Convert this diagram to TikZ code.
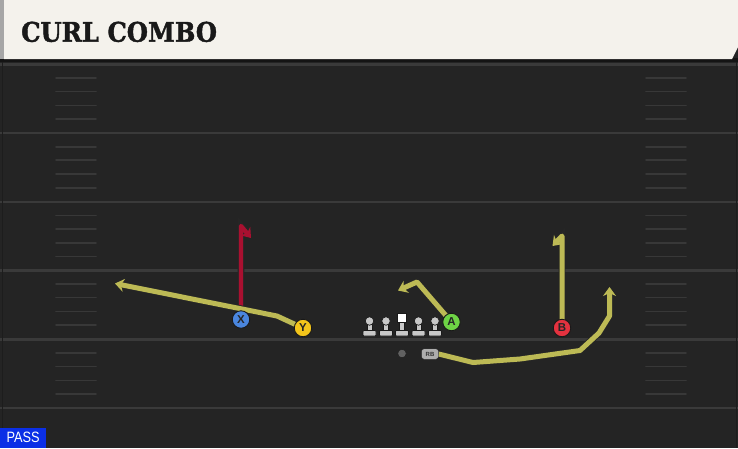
\documentclass[tikz,border=0pt]{standalone}
\usepackage{fontspec}
\setmainfont{Liberation Sans}
\newfontfamily\titlefont{DejaVu Serif}[BoldFeatures={FakeBold=1.6}]
\usetikzlibrary{positioning,arrows.meta,calc}

\definecolor{fieldbg}{HTML}{242424}
\definecolor{yardline}{HTML}{3A3A3A}
\definecolor{hashline}{HTML}{383838}
\definecolor{headerbg}{HTML}{F4F2EC}
\definecolor{routeyel}{HTML}{BDBA55}
\definecolor{routered}{HTML}{A91030}
\definecolor{plX}{HTML}{4A86DE}
\definecolor{plY}{HTML}{F3C51B}
\definecolor{plA}{HTML}{6ED345}
\definecolor{plB}{HTML}{E4323F}
\definecolor{passblue}{HTML}{0B2FE6}
\definecolor{linegray}{HTML}{C8C8C8}

\pgfdeclarelayer{field}
\pgfdeclarelayer{routes}
\pgfsetlayers{field,routes,main}

\tikzstyle{player} = [circle, draw=black!90, line width=0.9pt, minimum size=17.5pt, inner sep=0pt, font=\bfseries\fontsize{11.5}{11.5}\selectfont, text=black!85]
\tikzstyle{route} = [line width=5pt, draw=routeyel, line join=round, -{Stealth[length=9pt,width=13pt]}, preaction={draw=black!85, line width=6.8pt, -{Stealth[length=10.5pt,width=15.5pt]}}]
\tikzstyle{redroute} = [route, draw=routered, line width=4.4pt]
\tikzstyle{lineman} = [draw=black!90, line width=0.7pt, fill=linegray]

\begin{document}
\begin{tikzpicture}[x=1pt, y=-1pt]
\useasboundingbox (0,0) rectangle (738,448);

\begin{pgfonlayer}{field}
\fill[fieldbg] (0,0) rectangle (738,448);
\foreach \k in {0,...,5}
  \draw[yardline, line width=2.4pt] (0,64.5+68.7*\k) -- (738,64.5+68.7*\k);
\foreach \k in {0,...,4}
  \foreach \d in {13.5,27,41,54.5} {
    \draw[hashline, line width=1.6pt, line cap=round] (56,64.5+68.7*\k+\d) -- (96,64.5+68.7*\k+\d);
    \draw[hashline, line width=1.6pt, line cap=round] (646,64.5+68.7*\k+\d) -- (686,64.5+68.7*\k+\d);
  }
\draw[black!20!fieldbg, line width=1pt] (2,59) -- (2,448);
\draw[black!20!fieldbg, line width=1pt] (736,59) -- (736,448);
\fill[black!92] (0,58) rectangle (738,62);
\fill[headerbg] (4,0) -- (738,0) -- (738,47) -- (732,59) -- (4,59) -- cycle;
\fill[black!35] (0,0) rectangle (4,59);
\end{pgfonlayer}

\node[anchor=base west, inner sep=0pt, text=black!90, font=\titlefont\bfseries\fontsize{27}{27}\selectfont] (title) at (21,41.7) {\scalebox{0.9}[1]{CURL COMBO}};
\node[fill=passblue, anchor=south west, minimum width=46pt, minimum height=20pt, inner sep=0pt, text=white, font=\fontsize{15}{15}\selectfont] (play) at (0,448) {\scalebox{0.85}[1]{PASS}};

% offensive line
\foreach \n/\x in {LT/369.5,LG/386,RG/418.5,RT/435} {
  \draw[lineman, rounded corners=0.8pt] (\x-6.5,330.5) rectangle (\x+6.5,336);
  \draw[lineman] (\x-2.5,324) rectangle (\x+2.5,330.5);
  \node[circle, lineman, minimum size=8.5pt, inner sep=0pt] (\n) at (\x,321) {};
}
\draw[lineman, rounded corners=0.8pt] (395.5,330.5) rectangle (408.5,336);
\draw[lineman] (399.5,322.5) rectangle (404.5,330.5);
\node[lineman, fill=white, minimum size=9pt, inner sep=0pt] (C) at (402,318) {};

\node[circle, fill=black!62, draw=black!90, minimum size=8.5pt, inner sep=0pt] (QB) at (402,353.5) {};
\node[rounded corners=2.5pt, fill=black!32, draw=black!90, minimum width=17pt, minimum height=10.5pt, inner sep=0pt, text=black!80, font=\bfseries\fontsize{6}{6}\selectfont] (RB) at (430,354) {RB};

\node[player, fill=plX] (X) at (241,319.5) {X};
\node[player, fill=plY] (Y) at (303,328) {Y};
\node[player, fill=plA] (A) at (451.5,322) {A};
\node[player, fill=plB] (B) at (562,328) {B};

\coordinate (Xtop) at (241,226);
\coordinate (Xend) at (251,238);
\coordinate (Ybend) at (277,316);
\coordinate (Yend) at (115,283.5);
\coordinate (Abend) at (417,282);
\coordinate (Aend) at (398,290.5);
\coordinate (Btop) at (562,236);
\coordinate (Bend) at (552.5,246);
\coordinate (RB1) at (473,362.5);
\coordinate (RB2) at (520,359);
\coordinate (RB3) at (580,350.5);
\coordinate (RB4) at (599,333);
\coordinate (RB5) at (609.5,316);
\coordinate (RBend) at (609.5,287);

\begin{pgfonlayer}{routes}
\draw[redroute] (X.center) -- (Xtop) -- (Xend);
\draw[route] (Y.center) -- (Ybend) -- (Yend);
\draw[route] (A.center) -- (Abend) -- (Aend);
\draw[route] (B.center) -- (Btop) -- (Bend);
\draw[route] (RB.east) -- (RB1) -- (RB2) -- (RB3) -- (RB4) -- (RB5) -- (RBend);
\end{pgfonlayer}

\end{tikzpicture}
\end{document}
